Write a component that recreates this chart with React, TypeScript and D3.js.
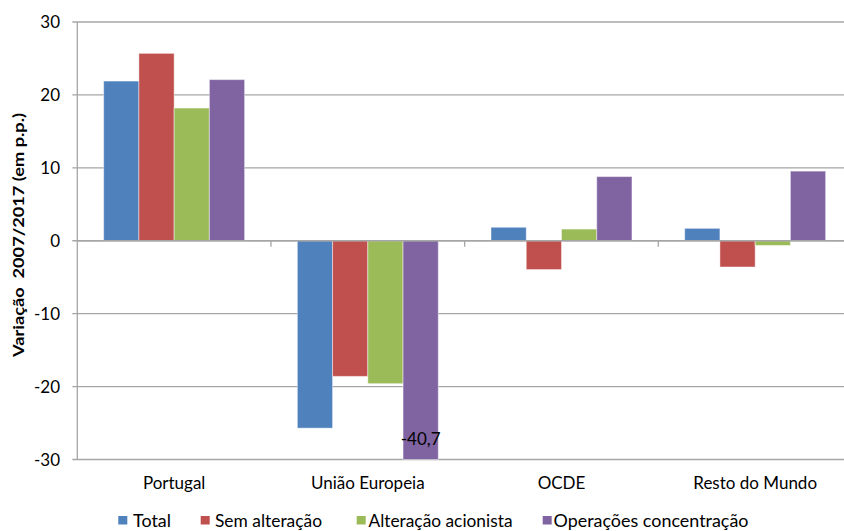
import React from "react";
import * as d3 from "d3";

const categories = ["Portugal", "União Europeia", "OCDE", "Resto do Mundo"];
const seriesNames = ["Total", "Sem alteração", "Alteração acionista", "Operações concentração"];
const total = [21.9, -25.7, 1.85, 1.7];
const semAlteracao = [25.7, -18.6, -3.95, -3.6];
const alteracaoAcionista = [18.2, -19.6, 1.6, -0.65];
const operacoesConcentracao = [22.1, -40.7, 8.8, 9.55];
const seriesValues = [total, semAlteracao, alteracaoAcionista, operacoesConcentracao];
const colors = ["#4F81BD", "#C0504D", "#9BBB59", "#8064A2"];
const yTicks = [-30, -20, -10, 0, 10, 20, 30];
const dataLabel = { category: "União Europeia", series: 3, text: "-40,7" };

const W = 844;
const H = 531;
const left = 77.3;
const right = 852;
const top = 22;
const bottom = 459.5;
const FONT = "Lato, 'Liberation Sans', sans-serif";

const legendSquares = [118.3, 200.7, 356.7, 542.7];
const legendTextX = [133, 215, 368.5, 553.5];
const legendTextLen = [38, 107, 144, 195];

export default function App() {
  const y = d3.scaleLinear().domain([-30, 30]).range([bottom, top]);
  const x0 = d3.scaleBand<string>().domain(categories).range([left, right]).padding(0);
  const x1 = d3
    .scaleBand<string>()
    .domain(seriesNames)
    .range([0, x0.bandwidth()])
    .paddingInner(0)
    .paddingOuter(0.748);
  const y0 = y(0);
  const grid = "#A6A6A6";

  return (
    <svg
      width={W}
      height={H}
      style={{ position: "absolute", left: 0, top: 0, background: "#fff" }}
      fontFamily={FONT}
    >
      <rect x={0} y={0} width={W} height={H} fill="#fff" />
      {yTicks.map((t) => (
        <g key={t}>
          <line x1={left - 5} x2={right} y1={y(t)} y2={y(t)} stroke={grid} strokeWidth={1.3} />
          <text x={60} y={y(t)} dy="0.36em" textAnchor="end" fontSize={17} fill="#000">
            {t}
          </text>
        </g>
      ))}
      <line x1={left} x2={left} y1={top} y2={bottom} stroke={grid} strokeWidth={1.3} />
      {categories.slice(1).map((c) => (
        <line
          key={c}
          x1={x0(c)!}
          x2={x0(c)!}
          y1={y0}
          y2={y0 + 6}
          stroke={grid}
          strokeWidth={1.3}
        />
      ))}
      {categories.map((c, ci) => (
        <g key={c} transform={`translate(${x0(c)},0)`}>
          {seriesNames.map((s, si) => {
            const v = seriesValues[si][ci];
            const vc = Math.max(-30, Math.min(30, v));
            const yy = Math.min(y(vc), y0);
            const hh = Math.abs(y(vc) - y0);
            return (
              <rect
                key={s}
                x={x1(s)!}
                y={yy}
                width={x1.bandwidth()}
                height={hh}
                fill={colors[si]}
                stroke="#ffffff"
                strokeOpacity={0.45}
                strokeWidth={1}
              />
            );
          })}
        </g>
      ))}
      <line x1={left} x2={right} y1={y0} y2={y0} stroke={grid} strokeWidth={1.3} />
      <text
        x={x0(dataLabel.category)! + x1(seriesNames[dataLabel.series])! + x1.bandwidth() / 2}
        y={445}
        textAnchor="middle"
        fontSize={17}
        fill="#000"
      >
        {dataLabel.text}
      </text>
      {categories.map((c) => (
        <text
          key={c}
          x={x0(c)! + x0.bandwidth() / 2}
          y={489}
          textAnchor="middle"
          fontSize={17}
          fill="#000"
        >
          {c}
        </text>
      ))}
      <text
        transform={`translate(24,${(113 + 357) / 2}) rotate(-90)`}
        textAnchor="middle"
        fontSize={16}
        fontWeight="bold"
        fill="#000"
        textLength={244}
        lengthAdjust="spacingAndGlyphs"
        style={{ whiteSpace: "pre" }}
      >
        {"Variação  2007/2017 (em p.p.)"}
      </text>
      {seriesNames.map((s, i) => (
        <g key={s}>
          <rect x={legendSquares[i]} y={516} width={9} height={8.5} fill={colors[i]} />
          <text
            x={legendTextX[i]}
            y={526.5}
            fontSize={16.5}
            fill="#000"
            textLength={legendTextLen[i]}
            lengthAdjust="spacingAndGlyphs"
          >
            {s}
          </text>
        </g>
      ))}
    </svg>
  );
}
